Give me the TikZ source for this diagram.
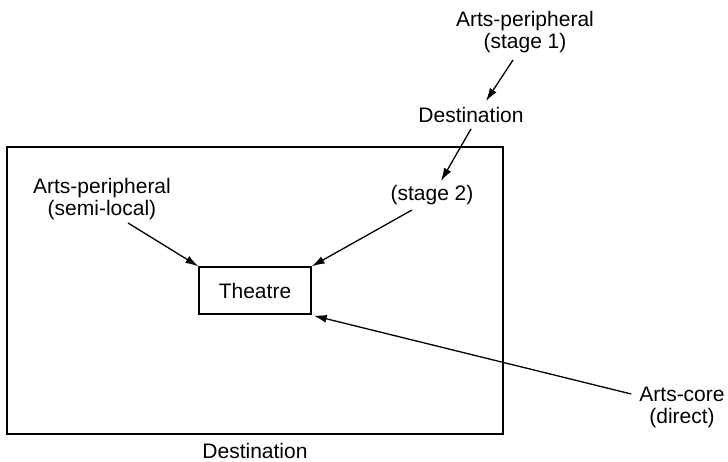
\documentclass[tikz,border=0pt]{standalone}
\usepackage{fontspec}
\setmainfont{Liberation Sans}
\usetikzlibrary{arrows.meta}
\begin{document}
\begin{tikzpicture}[x=1pt,y=-1pt,
  every node/.style={font=\fontsize{21}{22}\selectfont, inner sep=2pt},
  label/.style={align=center},
  boxnode/.style={draw, line width=1.3pt, inner sep=0pt},
  arr/.style={line width=1.3pt, -{Latex[length=13pt,width=8pt]}}]
\useasboundingbox (0,0) rectangle (728,462);
% outer destination region and the theatre inside it
\node[boxnode, minimum width=496pt, minimum height=287pt] (region) at (255,290.5) {};
\node[boxnode, minimum width=112pt, minimum height=47pt] (theatre) at (255,290.5) {Theatre};
\node (regionlabel) at (255,451) {Destination};
% visitor origins
\node[label] (semi) at (102,199) {Arts-peripheral\\(semi-local)};
\node[label] (stage2) at (432,195) {(stage 2)};
\node[label] (dest2) at (471,115) {Destination};
\node[label] (stage1) at (525,32) {Arts-peripheral\\(stage 1)};
\node[label] (core) at (682,407) {Arts-core\\(direct)};
% flows
\draw[arr] ([xshift=26pt,yshift=-1pt]semi.south) -- (theatre.north west);
\draw[arr] ([xshift=-20pt,yshift=-3pt]stage2.south) -- (theatre.north east);
\draw[arr] ([yshift=-4pt]dest2.south) -- ([xshift=9pt,yshift=2pt]stage2.north);
\draw[arr] ([xshift=-12pt,yshift=-5pt]stage1.south) -- ([xshift=15pt,yshift=4pt]dest2.north);
\draw[arr] ([xshift=-6pt,yshift=13pt]core.west) -- ([xshift=2pt,yshift=-1pt]theatre.south east);
\end{tikzpicture}
\end{document}
